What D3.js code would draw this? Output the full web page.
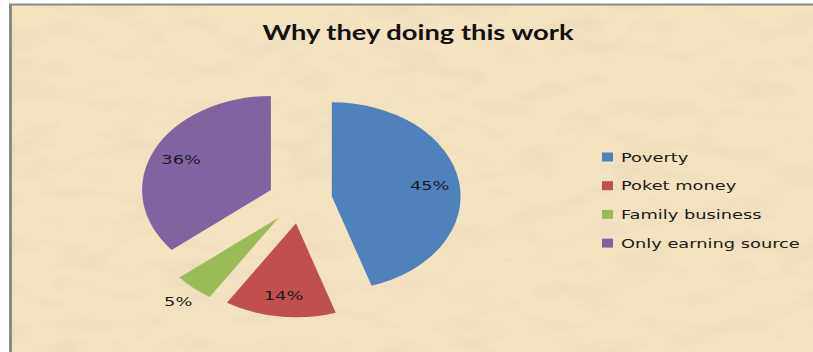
<!DOCTYPE html>
<html>
<head>
<meta charset="utf-8">
<script src="https://cdn.jsdelivr.net/npm/d3@7"></script>
<style>
  body { margin: 0; background: #fff; }
</style>
</head>
<body>
<script>
var categories = ["Poverty", "Poket money", "Family business", "Only earning source"];
var values = [45, 14, 5, 36];
var colors = ["#4f81bd", "#c0504d", "#9bbb59", "#8064a2"];
var chartTitle = "Why they doing this work";

var width = 813, height = 352;
var stretch = 1.37; // the picture is squeezed wider than tall

var svg = d3.select("body").append("svg")
  .attr("width", width)
  .attr("height", height);

// parchment look
var defs = svg.append("defs");
var f = defs.append("filter").attr("id", "paper")
  .attr("x", 0).attr("y", 0).attr("width", 1).attr("height", 1);
f.append("feTurbulence")
  .attr("type", "fractalNoise")
  .attr("baseFrequency", "0.018 0.05")
  .attr("numOctaves", 4)
  .attr("seed", 7)
  .attr("result", "n");
f.append("feColorMatrix")
  .attr("in", "n")
  .attr("type", "matrix")
  .attr("values", "0 0 0 0 0.82  0 0 0 0 0.69  0 0 0 0 0.48  1.6 0 0 0 -0.68")
  .attr("result", "spots");
f.append("feComposite")
  .attr("in", "spots")
  .attr("in2", "SourceGraphic")
  .attr("operator", "over");

svg.append("rect")
  .attr("x", 11).attr("y", 5)
  .attr("width", width + 20).attr("height", height + 20)
  .attr("fill", "#f3e3bf")
  .attr("filter", "url(#paper)");

// frame (only left and top show)
svg.append("line")
  .attr("x1", 10.5).attr("x2", 10.5).attr("y1", 4).attr("y2", height)
  .attr("stroke", "#8a8a8a").attr("stroke-width", 3);
svg.append("line")
  .attr("x1", 9).attr("x2", width).attr("y1", 4.5).attr("y2", 4.5)
  .attr("stroke", "#8a8a8a").attr("stroke-width", 2);

// title
svg.append("text")
  .attr("transform", "translate(418,40) scale(1.3,1)")
  .attr("text-anchor", "middle")
  .style("font-family", "Lato, 'Open Sans', sans-serif")
  .style("font-weight", "bold")
  .style("font-size", "21px")
  .style("fill", "#111")
  .text(chartTitle);

// pie
var cx = 300, cy = 200, r = 94, explode = 0.25;
var pie = d3.pie().sort(null).value(function(d) { return d; });
var arc = d3.arc().innerRadius(0).outerRadius(r);
var arcs = pie(values);

var pg = svg.append("g")
  .attr("transform", "translate(" + cx + "," + cy + ") scale(" + stretch + ",1)");

function mid(d) { return (d.startAngle + d.endAngle) / 2; }

pg.selectAll("path")
  .data(arcs)
  .enter()
  .append("path")
  .attr("d", arc)
  .attr("transform", function(d) {
    var a = mid(d);
    return "translate(" + (Math.sin(a) * explode * r) + "," + (-Math.cos(a) * explode * r) + ")";
  })
  .attr("fill", function(d, i) { return colors[i]; });

// percentage labels (small slice label sits outside)
svg.selectAll("text.pct")
  .data(arcs)
  .enter()
  .append("text")
  .attr("class", "pct")
  .attr("transform", function(d) {
    var a = mid(d);
    var lr = d.data < 10 ? 1.18 : 0.77;
    var x = cx + stretch * (Math.sin(a) * (explode + lr) * r);
    var y = cy - Math.cos(a) * (explode + lr) * r;
    return "translate(" + x + "," + y + ") scale(" + stretch + ",1)";
  })
  .attr("text-anchor", "middle")
  .attr("dy", "0.36em")
  .style("font-family", "'DejaVu Sans', Verdana, sans-serif")
  .style("font-size", "13px")
  .style("fill", "#1a1a1a")
  .text(function(d) { return d.data + "%"; });

// legend
var lg = svg.append("g").attr("transform", "translate(602,157)");
var rows = lg.selectAll("g")
  .data(categories)
  .enter()
  .append("g")
  .attr("transform", function(d, i) { return "translate(0," + (i * 28.7) + ")"; });
rows.append("rect")
  .attr("x", 0).attr("y", -4.5)
  .attr("width", 11).attr("height", 9)
  .attr("fill", function(d, i) { return colors[i]; });
rows.append("text")
  .attr("transform", "translate(19,0) scale(" + stretch + ",1)")
  .attr("dy", "0.36em")
  .style("font-family", "'DejaVu Sans', Verdana, sans-serif")
  .style("font-size", "13px")
  .style("fill", "#1a1a1a")
  .text(function(d) { return d; });
</script>
</body>
</html>
